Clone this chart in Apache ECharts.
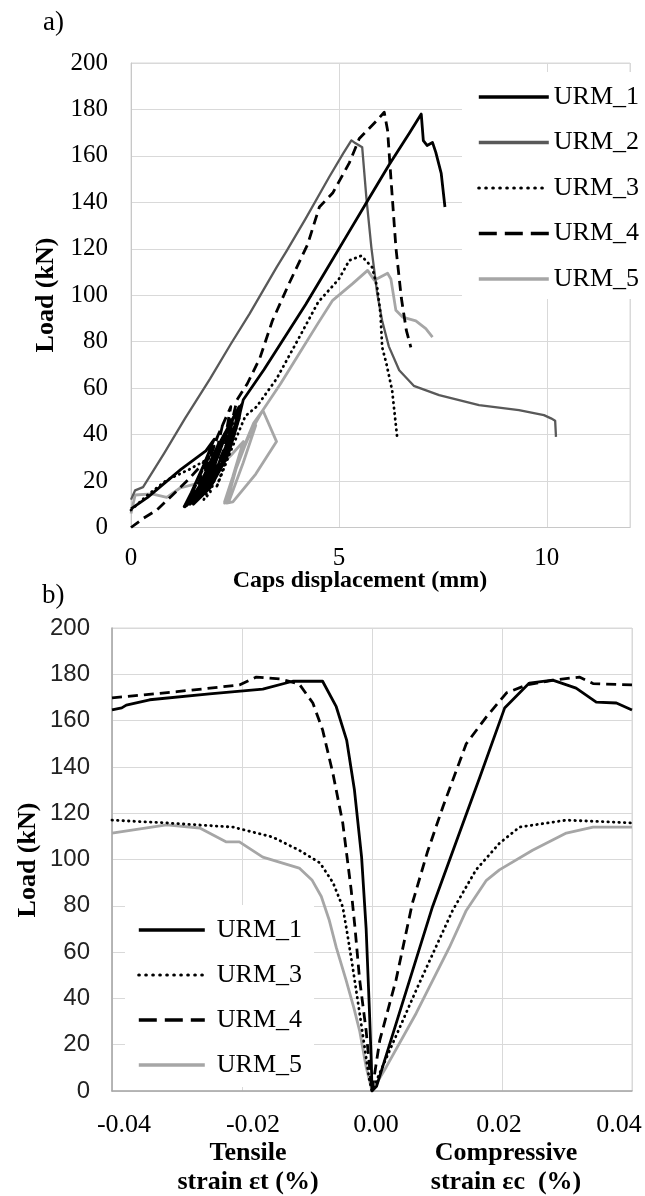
<!DOCTYPE html>
<html>
<head>
<meta charset="utf-8">
<script src="https://cdn.jsdelivr.net/npm/echarts@6.0.0/dist/echarts.min.js"></script>
<style>
  html, body { margin: 0; padding: 0; background: #fff; }
  #chart { width: 645px; height: 1196px; }
</style>
</head>
<body>
<div id="chart"></div>
<script>
// ---- a) Load vs caps displacement (mm, kN), including the low-load cycles ----
const urm1Disp = [[0,8],[0.4,13],[0.8,19],[1.2,25],[1.5,29],[1.8,33],[2.0,38],[1.75,27],[1.45,15],[1.28,9],[1.6,14],[1.95,24],[2.2,36],[2.3,42],[2.0,32],[1.65,18],[1.35,10],[1.7,15],[2.05,25],[2.35,38],[2.45,47],[2.15,37],[1.75,20],[1.42,10],[1.8,16],[2.2,28],[2.5,44],[2.6,52],[2.3,42],[1.9,24],[1.55,11],[1.95,19],[2.35,32],[2.6,47],[2.66,53],[2.4,45],[2.05,30],[1.7,14],[1.5,10],[1.9,17],[2.3,30],[2.55,44],[2.7,55],[3.2,68],[3.7,82],[4.2,96],[4.7,111],[5.2,126],[5.7,141],[6.2,156],[6.7,170],[6.98,178],[7.03,166.6],[7.12,164.5],[7.25,165.8],[7.33,161.5],[7.46,152.5],[7.55,138]];
const urm2Disp = [[0,12],[0.1,16],[0.29,17.4],[0.8,32],[1.3,47],[1.9,64],[2.4,79],[2.85,92],[3.5,112],[3.74,119],[4.2,133],[4.77,151],[5.1,161],[5.3,166.7],[5.37,165.8],[5.56,163.7],[5.66,142],[5.78,120.6],[5.92,100.8],[6.04,89],[6.2,78],[6.45,67.7],[6.8,61],[7.41,57],[8.37,52.7],[9.33,50.5],[9.93,48.4],[10.1,47],[10.2,46],[10.22,39]];
const urm3Disp = [[0,7.5],[0.4,14],[0.86,20.4],[1.4,25],[1.9,30],[2.2,37],[2.45,45],[2.2,30],[1.9,15],[1.75,12],[2.1,25],[2.4,40],[2.6,47],[2.4,35],[2.05,17],[2.4,33],[2.75,48],[3.02,52],[3.5,64],[4.05,82],[4.5,97],[5.0,107],[5.25,115],[5.54,117],[5.8,112],[5.92,103.4],[6.0,92],[6.04,77.6],[6.14,70.7],[6.28,59],[6.4,39]];
const urm4Disp = [[0,0],[0.3,4],[0.62,7.5],[1.0,14],[1.4,21],[1.8,29],[2.0,35],[1.7,24],[1.4,12],[1.25,8],[1.55,13],[1.85,23],[2.1,36],[2.2,44],[1.9,32],[1.55,16],[1.3,9],[1.65,14],[2.0,26],[2.3,42],[2.4,52],[2.1,40],[1.7,20],[1.45,11],[1.8,17],[2.2,32],[2.45,48],[2.35,44],[2.0,30],[1.62,13],[1.95,20],[2.3,36],[2.55,55],[2.8,62],[3.1,73],[3.4,89],[3.8,105],[4.25,122],[4.53,138],[4.85,144],[5.25,157],[5.49,167.5],[5.9,175],[6.09,178.8],[6.17,171],[6.26,148],[6.37,120.6],[6.5,99],[6.62,85],[6.73,77.6]];
const urm5Disp = [[0,6],[0.1,14],[0.5,14.5],[0.86,13],[1.18,17],[1.6,19],[2.0,24],[2.4,31],[2.7,37],[2.45,22],[2.25,11],[2.5,24],[2.8,38],[3.0,44],[2.7,28],[2.35,11],[2.25,10.5],[2.55,27],[2.9,42],[3.17,50.5],[3.5,37],[3.0,23],[2.45,11],[2.3,10.5],[2.6,30],[2.95,45],[3.17,50.5],[3.6,62],[4.05,75],[4.5,88],[4.85,97.8],[5.33,105],[5.69,110.7],[5.85,106.5],[6.17,109.5],[6.25,107],[6.37,93.5],[6.53,90.6],[6.85,89],[7.09,85.6],[7.25,82]];

// ---- b) Load vs strain (%, kN); tensile negative, compressive positive ----
const urm1Strain = [[-0.0400,164.6],[-0.0385,165.5],[-0.0378,166.7],[-0.0342,169],[-0.0250,171.5],[-0.0168,173.6],[-0.0122,177],[-0.0076,177],[-0.0055,166],[-0.0039,151.6],[-0.0027,130],[-0.0016,101],[-0.0009,70],[-0.0004,35],[-0.0001,12],[0,0],[0.0007,2],[0.0058,48],[0.0093,79.5],[0.0130,108],[0.0166,135.6],[0.0204,165.4],[0.0242,176.2],[0.0278,177.5],[0.0314,174],[0.0345,168],[0.0376,167.6],[0.0400,164.6]];
const urm3Strain = [[-0.0400,117],[-0.0316,115.8],[-0.0214,114],[-0.0153,109.7],[-0.0112,104],[-0.0080,98.5],[-0.0060,90],[-0.0045,79.5],[-0.0038,68],[-0.0030,54],[-0.0019,33.6],[-0.0004,4.7],[0,0],[0.0016,10.4],[0.0068,43.6],[0.0124,78],[0.0160,95.5],[0.0196,107],[0.0227,114],[0.0299,117],[0.0400,115.8]];
const urm4Strain = [[-0.0400,169.8],[-0.0300,172.5],[-0.0204,175.4],[-0.0178,178.8],[-0.0142,178],[-0.0112,175.8],[-0.0091,167.6],[-0.0076,156],[-0.0060,137],[-0.0045,115.8],[-0.0032,86.8],[-0.0026,70],[-0.0019,48],[-0.0009,26],[-0.0003,8],[0,0],[0.0012,22],[0.0037,48],[0.0062,81],[0.0085,103],[0.0109,122.7],[0.0145,150],[0.0176,161.6],[0.0207,172],[0.0238,175.4],[0.0280,177.5],[0.0319,178.8],[0.0340,176],[0.0400,175.4]];
const urm5Strain = [[-0.0400,111.4],[-0.0316,115],[-0.0265,113.6],[-0.0224,107.6],[-0.0204,107.6],[-0.0168,101],[-0.0112,96.3],[-0.0092,91],[-0.0078,84],[-0.0066,74],[-0.0055,62],[-0.0040,48],[-0.0028,36],[-0.0019,26],[-0.0009,10.4],[0,0],[0.0022,10.4],[0.0068,33.6],[0.0119,62],[0.0145,78],[0.0176,91],[0.0196,95.5],[0.0247,104],[0.0299,111.4],[0.0340,114],[0.0400,114]];

const namesTop = ['URM_1', 'URM_2', 'URM_3', 'URM_4', 'URM_5'];
const namesBottom = ['URM_1', 'URM_3', 'URM_4', 'URM_5'];

const serif = '"Liberation Serif", "Times New Roman", serif';
const sans = '"Liberation Sans", Arial, sans-serif';

const styles = {
  URM_1: { color: '#000000', width: 2.8, type: 'solid' },
  URM_2: { color: '#595959', width: 2.3, type: 'solid' },
  URM_3: { color: '#000000', width: 2.8, type: [0.5, 5], cap: 'round' },
  URM_4: { color: '#000000', width: 2.8, type: [10, 6] },
  URM_5: { color: '#a6a6a6', width: 2.8, type: 'solid' }
};

function line(name, data, idx) {
  const s = styles[name];
  return {
    name, type: 'line', data,
    xAxisIndex: idx, yAxisIndex: idx,
    showSymbol: false, symbol: 'none', smooth: false,
    lineStyle: { color: s.color, width: s.width, type: s.type, cap: s.cap || 'butt', join: 'round' },
    itemStyle: { color: s.color },
    emphasis: { disabled: true }
  };
}

const legendItem = (n) => {
  const o = { name: n };
  if (n === 'URM_4') o.lineStyle = { type: [18, 8], width: 3.6 };
  if (n === 'URM_3') o.lineStyle = { type: [0.5, 6.5], cap: 'round', width: 3.2 };
  return o;
};

const gridColor = '#d9d9d9';

const option = {
  animation: false,
  backgroundColor: '#ffffff',
  grid: [
    { left: 131, top: 63, width: 499, height: 464.5, show: true, borderColor: gridColor, borderWidth: 1 },
    { left: 112, top: 628, width: 520, height: 463, show: true, borderColor: gridColor, borderWidth: 1 }
  ],
  xAxis: [
    {
      gridIndex: 0, type: 'value', min: 0, max: 12, interval: 5,
      axisLine: { show: true, onZero: false, lineStyle: { color: '#c8c8c8', width: 1 } },
      axisTick: { show: false },
      axisLabel: { fontFamily: serif, fontSize: 25, color: '#000', margin: 18, showMaxLabel: false },
      splitLine: { show: true, lineStyle: { color: gridColor, width: 1 } }
    },
    {
      gridIndex: 1, type: 'value', min: -0.04, max: 0.04, interval: 0.02,
      axisLine: { show: true, onZero: false, lineStyle: { color: '#a6a6a6', width: 1.5 } },
      axisTick: { show: false },
      axisLabel: {
        color: '#000', margin: 21,
        formatter: (v) => {
          const s = (Math.abs(v) < 1e-9 ? 0 : v).toFixed(2);
          if (v < -0.03) return '{a|' + s + '}';
          if (v < -0.01) return '{b|' + s + '}';
          if (v < 0.01) return '{c|' + s + '}';
          if (v < 0.03) return '{d|' + s + '}';
          return '{e|' + s + '}';
        },
        rich: {
          a: { fontFamily: serif, fontSize: 26, color: '#000', padding: [0, 0, 0, 24] },
          b: { fontFamily: serif, fontSize: 26, color: '#000', padding: [0, 0, 0, 22] },
          c: { fontFamily: serif, fontSize: 26, color: '#000', padding: [0, 0, 0, 8] },
          d: { fontFamily: serif, fontSize: 26, color: '#000', padding: [0, 6, 0, 0] },
          e: { fontFamily: serif, fontSize: 26, color: '#000', padding: [0, 26, 0, 0] }
        }
      },
      splitLine: { show: true, lineStyle: { color: gridColor, width: 1 } }
    }
  ],
  yAxis: [
    {
      gridIndex: 0, type: 'value', min: 0, max: 200, interval: 20,
      axisLine: { show: true, onZero: false, lineStyle: { color: '#c8c8c8', width: 1 } },
      axisTick: { show: false },
      axisLabel: { fontFamily: serif, fontSize: 25, color: '#000', margin: 23 },
      splitLine: { show: true, lineStyle: { color: gridColor, width: 1 } }
    },
    {
      gridIndex: 1, type: 'value', min: 0, max: 200, interval: 20,
      axisLine: { show: true, onZero: false, lineStyle: { color: '#a6a6a6', width: 1.5 } },
      axisTick: { show: false },
      axisLabel: { fontFamily: sans, fontSize: 24, color: '#222', margin: 22 },
      splitLine: { show: true, lineStyle: { color: gridColor, width: 1 } }
    }
  ],
  legend: [
    {
      orient: 'vertical', left: 462, top: 72,
      itemWidth: 70, itemHeight: 14, itemGap: 15.5,
      padding: [10, 12, 5, 15],
      backgroundColor: '#ffffff',
      selectedMode: false,
      itemStyle: { opacity: 0, borderWidth: 0 },
      lineStyle: { width: 3.6 },
      textStyle: { fontFamily: serif, fontSize: 26, color: '#000', lineHeight: 30 },
      data: namesTop.map(legendItem)
    },
    {
      orient: 'vertical', left: 125, top: 905,
      itemWidth: 66, itemHeight: 14, itemGap: 15,
      padding: [10, 12, 7, 12],
      backgroundColor: '#ffffff',
      selectedMode: false,
      itemStyle: { opacity: 0, borderWidth: 0 },
      lineStyle: { width: 3.6 },
      textStyle: { fontFamily: serif, fontSize: 26, color: '#000', lineHeight: 30, padding: [0, 0, 0, 7] },
      data: namesBottom.map(legendItem)
    }
  ],
  graphic: [
    { type: 'text', x: 43, y: 23, style: { text: 'a)', font: '27px ' + serif, fill: '#000', align: 'left', verticalAlign: 'middle' } },
    { type: 'text', x: 42, y: 596, style: { text: 'b)', font: '27px ' + serif, fill: '#000', align: 'left', verticalAlign: 'middle' } },
    { type: 'text', x: 46, y: 295, rotation: Math.PI / 2, style: { text: 'Load (kN)', font: 'bold 26px ' + serif, fill: '#000', align: 'center', verticalAlign: 'middle' } },
    { type: 'text', x: 28, y: 860, rotation: Math.PI / 2, style: { text: 'Load (kN)', font: 'bold 26px ' + serif, fill: '#000', align: 'center', verticalAlign: 'middle' } },
    { type: 'text', x: 360, y: 581, style: { text: 'Caps displacement (mm)', font: 'bold 24px ' + serif, fill: '#000', align: 'center', verticalAlign: 'middle' } },
    { type: 'text', x: 248, y: 1168, style: { text: 'Tensile\nstrain εt (%)', font: 'bold 26px ' + serif, lineHeight: 29, fill: '#000', align: 'center', verticalAlign: 'middle' } },
    { type: 'text', x: 506, y: 1168, style: { text: 'Compressive\nstrain εc  (%)', font: 'bold 26px ' + serif, lineHeight: 29, fill: '#000', align: 'center', verticalAlign: 'middle' } }
  ],
  series: [
    line('URM_5', urm5Disp, 0),
    line('URM_2', urm2Disp, 0),
    line('URM_3', urm3Disp, 0),
    line('URM_1', urm1Disp, 0),
    line('URM_4', urm4Disp, 0),
    line('URM_5', urm5Strain, 1),
    line('URM_3', urm3Strain, 1),
    line('URM_1', urm1Strain, 1),
    line('URM_4', urm4Strain, 1)
  ]
};

const chart = echarts.init(document.getElementById('chart'), null, { renderer: 'canvas' });
chart.setOption(option);
</script>
</body>
</html>
